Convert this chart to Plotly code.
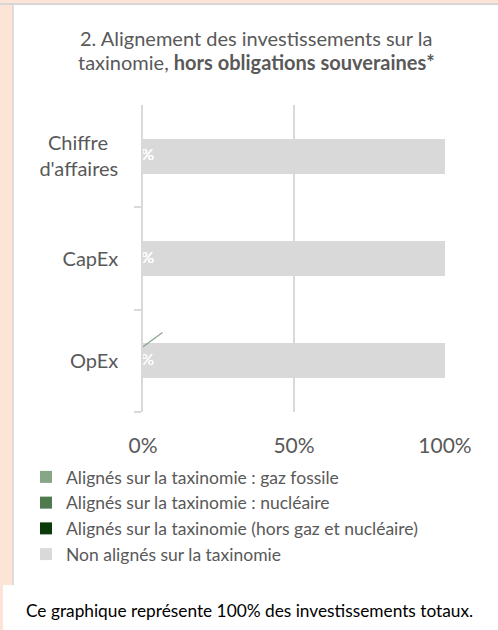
import plotly.graph_objects as go

# ---- data ----
categories = ["Chiffre d'affaires", "CapEx", "OpEx"]
tick_labels = ["Chiffre\u00a0\u00a0<br>d'affaires", "CapEx", "OpEx"]
gaz_fossile = [0, 0, 0]
nucleaire = [0, 0, 0]
hors_gaz_nucleaire = [0, 0, 0]
non_alignes = [100, 100, 100]
series_names = [
    "Alignés sur la taxinomie : gaz fossile",
    "Alignés sur la taxinomie : nucléaire",
    "Alignés sur la taxinomie (hors gaz et nucléaire)",
    "Non alignés sur la taxinomie",
]
x_tick_vals = [0, 50, 100]
x_tick_text = ["0%", "50%", "100%"]

# ---- styles ----
colors = ["#87A587", "#4E7A4E", "#0B3A0B", "#D9D9D9"]
FONT = "Lato"
GRAY_TXT = "#595959"
GRID = "#D9D9D9"
PEACH = "#FCE4D6"

W, H = 498, 630
ML, MR, MT, MB = 143, 53, 105, 218
PW, PH = W - ML - MR, H - MT - MB


def px(x):
    return (x - ML) / PW


def py(y):
    return (H - MB - y) / PH


fig = go.Figure()
all_series = [gaz_fossile, nucleaire, hors_gaz_nucleaire, non_alignes]
for i, (name, vals, col) in enumerate(zip(series_names, all_series, colors)):
    fig.add_trace(go.Bar(
        y=categories, x=vals, name=name, orientation="h",
        marker=dict(color=col, line=dict(width=0)), width=0.34,
        legendgroup=f"g{i}",
    ))

# value labels of the aligned segments (white, at the segment position)
for i, vals in enumerate(all_series[:3]):
    cats = [c for c in categories if not (i == 0 and c == "OpEx")]
    xs = [vals[categories.index(c)] for c in cats]
    fig.add_trace(go.Scatter(
        x=xs, y=cats, mode="text", text=[f"{v:.0f}%" for v in xs],
        textposition="middle center",
        textfont=dict(family=FONT, size=16, color="white"),
        showlegend=False, hoverinfo="skip", cliponaxis=False,
    ))

# displaced label with leader line (OpEx, gaz fossile)
fig.add_annotation(
    x=gaz_fossile[2], y="OpEx", xref="x", yref="y",
    text=f"{gaz_fossile[2]:.0f}%", font=dict(family=FONT, size=13, color="white"),
    showarrow=True, arrowhead=0, arrowwidth=1.2, arrowcolor=colors[0],
    ax=30, ay=-22, yshift=14, standoff=0,
)

# title
fig.add_annotation(x=px(256), y=py(38), xref="paper", yref="paper",
                   text="2. Alignement des investissements sur la",
                   showarrow=False, xanchor="center", yanchor="middle",
                   font=dict(family=FONT, size=20, color=GRAY_TXT))
fig.add_annotation(x=px(256), y=py(62), xref="paper", yref="paper",
                   text="taxinomie, <b>hors obligations souveraines*</b>",
                   showarrow=False, xanchor="center", yanchor="middle",
                   font=dict(family=FONT, size=20, color=GRAY_TXT))
# footer
fig.add_annotation(x=px(24), y=py(610), xref="paper", yref="paper",
                   text="Ce graphique représente 100% des investissements totaux.",
                   showarrow=False, xanchor="left", yanchor="middle",
                   font=dict(family=FONT, size=17.3, color="#000000"))

# background panels
shapes = [
    dict(type="rect", xref="paper", yref="paper", x0=px(0), x1=px(W), y0=py(3), y1=py(5),
         fillcolor="#D6D6D6", line=dict(width=0), layer="below"),
    dict(type="rect", xref="paper", yref="paper", x0=px(12), x1=px(14), y0=py(5), y1=py(585),
         fillcolor="#E0DAD6", line=dict(width=0), layer="below"),
    dict(type="rect", xref="paper", yref="paper", x0=px(14), x1=px(W), y0=py(5), y1=py(585),
         fillcolor="white", line=dict(width=0), layer="below"),
    dict(type="rect", xref="paper", yref="paper", x0=px(3), x1=px(W), y0=py(585), y1=py(H),
         fillcolor="white", line=dict(width=0), layer="below"),
]

fig.update_layout(
    width=W, height=H,
    margin=dict(l=ML, r=MR, t=MT, b=MB, pad=0, autoexpand=False),
    paper_bgcolor=PEACH, plot_bgcolor="white",
    barmode="stack", bargap=0.66,
    font=dict(family=FONT, color=GRAY_TXT),
    shapes=shapes,
    showlegend=True,
    legend=dict(
        x=px(26), y=py(459), xanchor="left", yanchor="top",
        orientation="v", traceorder="normal", tracegroupgap=13.5,
        font=dict(family=FONT, size=17.5, color=GRAY_TXT),
        bgcolor="rgba(0,0,0,0)", itemclick=False,
    ),
    xaxis=dict(
        range=[0, 100], tickvals=x_tick_vals, ticktext=x_tick_text,
        showgrid=True, gridcolor=GRID, gridwidth=1.5,
        zeroline=False, showline=False, ticks="",
        tickfont=dict(family=FONT, size=21, color=GRAY_TXT),
        ticklabelstandoff=19,
    ),
    yaxis=dict(
        categoryorder="array", categoryarray=categories[::-1],
        tickvals=categories, ticktext=tick_labels,
        tickson="boundaries", ticks="outside", ticklen=7, tickcolor=GRID, tickwidth=1.5,
        showline=True, linecolor=GRID, linewidth=1.5, showgrid=False,
        tickfont=dict(family=FONT, size=20, color=GRAY_TXT),
        ticklabelstandoff=19,
    ),
)

fig.write_html("out.html", post_script="document.body.style.margin='0';",
               config={"displayModeBar": False})
